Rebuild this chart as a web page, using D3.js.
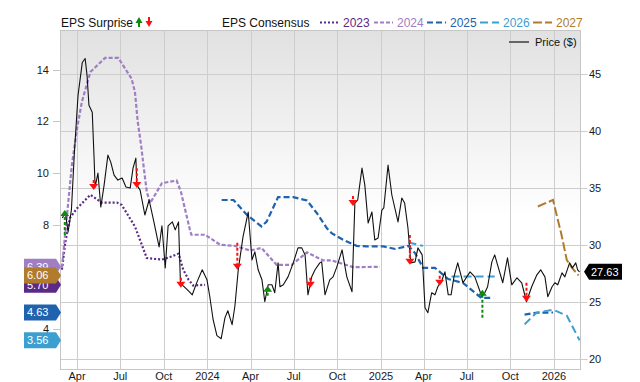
<!DOCTYPE html>
<html>
<head>
<meta charset="utf-8">
<script src="https://cdnjs.cloudflare.com/ajax/libs/d3/7.8.5/d3.min.js"></script>
<style>
  body { margin: 0; background: #fff; }
  svg text { font-family: "Liberation Sans", Arial, sans-serif; }
</style>
</head>
<body>
<div id="chart"></div>
<script>
// ---- data ----
const dateRange = ["2023-02-25", "2026-02-26"]
const priceTicks = [20, 25, 30, 35, 40, 45]
const epsTicks = [4, 6, 8, 10, 12, 14]
const years = ["2023", "2024", "2025", "2026", "2027"]

const price = [
  ["2023-03-01",32.37],["2023-03-07",32.89],["2023-03-13",31.14],["2023-03-20",33.07],["2023-03-26",37.90],
  ["2023-04-03",43.16],["2023-04-12",46.05],["2023-04-18",46.40],["2023-04-22",44.91],["2023-04-26",42.28],
  ["2023-05-03",41.67],["2023-05-07",37.46],["2023-05-09",35.09],["2023-05-15",36.32],["2023-05-21",33.33],
  ["2023-05-28",35.26],["2023-06-05",37.90],["2023-06-11",37.28],["2023-06-18",36.14],["2023-06-26",35.70],
  ["2023-07-05",35.88],["2023-07-13",35.09],["2023-07-22",35.00],["2023-07-28",36.75],["2023-08-03",37.63],
  ["2023-08-05",35.26],["2023-08-12",34.82],["2023-08-22",32.63],["2023-08-31",33.95],["2023-09-10",32.02],
  ["2023-09-21",29.82],["2023-09-27",31.67],["2023-10-04",27.98],["2023-10-10",31.67],["2023-10-19",32.02],
  ["2023-10-25",31.32],["2023-11-01",32.02],["2023-11-05",26.67],["2023-11-11",26.40],["2023-11-22",25.96],
  ["2023-11-30",25.61],["2023-12-10",26.75],["2023-12-21",27.81],["2023-12-31",26.93],["2024-01-06",25.44],
  ["2024-01-13",23.42],["2024-01-21",22.02],["2024-01-30",21.75],["2024-02-07",23.60],["2024-02-13",24.21],
  ["2024-02-22",22.98],["2024-02-28",24.65],["2024-03-06",27.81],["2024-03-16",30.70],["2024-03-27",32.89],
  ["2024-04-04",28.68],["2024-04-10",29.39],["2024-04-17",27.81],["2024-04-25",26.93],["2024-05-01",25.00],
  ["2024-05-08",26.49],["2024-05-16",26.49],["2024-05-22",25.79],["2024-05-29",28.42],["2024-06-02",26.32],
  ["2024-06-09",26.49],["2024-06-19",27.19],["2024-06-30",28.42],["2024-07-10",29.74],["2024-07-18",29.74],
  ["2024-07-25",29.12],["2024-07-31",25.61],["2024-08-08",27.19],["2024-08-15",27.81],["2024-08-25",28.42],
  ["2024-08-29",28.51],["2024-09-05",25.61],["2024-09-15",26.93],["2024-09-22",27.19],["2024-09-30",28.07],
  ["2024-10-11",29.56],["2024-10-21",27.19],["2024-11-01",25.88],["2024-11-07",33.68],["2024-11-13",33.95],
  ["2024-11-22",36.75],["2024-11-28",35.26],["2024-12-05",31.93],["2024-12-13",32.89],["2024-12-19",30.44],
  ["2024-12-26",30.61],["2025-01-03",33.07],["2025-01-07",33.25],["2025-01-16",37.02],["2025-01-24",34.39],
  ["2025-02-06",32.02],["2025-02-14",34.12],["2025-02-20",33.68],["2025-02-27",31.49],["2025-03-05",28.42],
  ["2025-03-14",28.51],["2025-03-20",29.74],["2025-03-29",29.12],["2025-04-04",24.47],["2025-04-10",24.04],
  ["2025-04-18",25.79],["2025-04-25",25.61],["2025-05-01",26.32],["2025-05-10",26.93],["2025-05-16",27.63],
  ["2025-05-23",25.61],["2025-05-29",25.61],["2025-06-04",27.19],["2025-06-12",28.42],["2025-06-23",26.67],
  ["2025-07-08",27.63],["2025-07-18",27.19],["2025-08-02",25.44],["2025-08-08",25.79],["2025-08-14",26.32],
  ["2025-08-23",28.51],["2025-08-29",29.12],["2025-09-04",28.25],["2025-09-15",26.67],["2025-09-25",28.86],
  ["2025-10-04",26.49],["2025-10-15",27.11],["2025-10-25",26.67],["2025-11-04",25.00],["2025-11-15",26.32],
  ["2025-11-26",27.37],["2025-12-04",27.81],["2025-12-13",27.19],["2025-12-19",25.44],["2025-12-28",26.32],
  ["2026-01-03",26.67],["2026-01-09",26.49],["2026-01-18",27.54],["2026-01-24",27.19],["2026-02-03",28.42],
  ["2026-02-09",27.98],["2026-02-16",28.42],["2026-02-20",27.81],["2026-02-24",27.63]
]

const eps2023 = [
  ["2023-02-28",6.28],["2023-03-07",7.32],["2023-03-17",8.28],["2023-04-01",8.65],["2023-04-29",9.17],
  ["2023-05-23",8.87],["2023-06-24",8.87],["2023-07-04",8.78],["2023-08-01",7.95],["2023-08-26",6.73],
  ["2023-09-27",6.67],["2023-10-14",6.77],["2023-11-01",6.90],["2023-11-11",6.28],["2023-11-22",5.90],
  ["2023-12-02",5.67],["2023-12-27",5.70]
]
const eps2024 = [
  ["2023-02-28",6.36],["2023-03-21",10.32],["2023-04-01",11.73],["2023-04-11",12.75],["2023-04-29",13.91],
  ["2023-05-30",14.45],["2023-06-27",14.45],["2023-07-25",13.65],["2023-08-01",13.14],["2023-08-07",11.98],
  ["2023-08-14",11.09],["2023-08-19",10.32],["2023-08-26",9.29],["2023-09-02",8.85],["2023-09-27",9.62],
  ["2023-10-28",9.72],["2023-11-06",9.29],["2023-11-25",7.82],["2023-11-28",7.63],["2023-12-27",7.63],
  ["2024-01-28",7.24],["2024-02-28",7.20],["2024-03-31",7.02],["2024-04-24",7.12],["2024-05-26",6.47],
  ["2024-06-27",6.47],["2024-07-29",6.95],["2024-09-01",6.64],["2024-09-19",6.64],["2024-11-03",6.38],
  ["2024-12-30",6.39]
]
const eps2025 = [
  ["2024-01-31",8.97],["2024-02-25",8.97],["2024-03-24",8.40],["2024-04-24",7.95],["2024-05-05",8.14],
  ["2024-05-29",9.08],["2024-06-30",9.08],["2024-07-29",8.95],["2024-08-19",8.46],["2024-09-09",7.88],
  ["2024-09-19",7.69],["2024-10-14",7.43],["2024-11-11",7.20],["2024-12-02",7.18],["2025-01-06",7.18],
  ["2025-01-31",7.08],["2025-02-28",7.20],["2025-03-14",6.92],["2025-03-31",6.35],["2025-04-25",6.35],
  ["2025-05-23",5.92],["2025-06-23",5.77],["2025-08-01",5.19],["2025-08-26",5.19],["2025-09-30",null],
  ["2025-10-31",4.55],["2025-11-25",4.62],["2025-12-30",4.63]
]
const eps2026 = [
  ["2025-02-28",7.33],["2025-03-31",7.20],["2025-04-30",null],["2025-05-30",6.02],["2025-08-29",6.02],
  ["2025-09-30",null],["2025-10-31",4.17],["2025-11-25",4.62],["2025-12-30",4.74],["2026-01-28",4.51],
  ["2026-02-24",3.56]
]
const eps2027 = [
  ["2025-11-28",8.72],["2025-12-30",8.97],["2026-01-17",7.62],["2026-01-28",6.66],["2026-02-08",6.35],
  ["2026-02-22",6.06]
]

// EPS surprise markers, in price units: tail -> head
const surpriseDates = ["2023-03-06","2023-05-06","2023-08-05","2023-11-06","2024-03-04","2024-05-07",
  "2024-08-05","2024-11-03","2025-03-03","2025-05-05","2025-08-03","2025-11-04"]
const surpriseFrom = [30.88, 35.44, 36.75, 26.93, 30.18, 25.79, 26.84, 34.12, 30.88, 27.11, 23.60, 26.67]
const surpriseTo   = [33.07, 34.82, 35.00, 26.23, 27.81, 26.40, 26.23, 33.42, 28.25, 26.40, 26.05, 25.00]

// ---- styles ----
const yearColors = ["#5a2a86", "#a07ec4", "#1f62ad", "#3c9fd2", "#b07b2c"]
const yearDash = ["2,2", "4,2", "6,3", "8,4", "9,3"]
const yearWidth = [2.2, 2.2, 2.2, 2, 2]
const UP = "#0f8a0f", DOWN = "#ff1010"

document.addEventListener("DOMContentLoaded", () => {
    const width = 640, height = 382
    const plot = {left: 60.5, right: 580.5, top: 30.5, bottom: 369.5}
    const parse = d3.timeParse("%Y-%m-%d")

    const series = [eps2023, eps2024, eps2025, eps2026, eps2027]
        .map(s => s.map(d => [parse(d[0]), d[1]]))
    const priceData = price.map(d => [parse(d[0]), d[1]])

    const x = d3.scaleTime()
        .domain(dateRange.map(parse))
        .range([plot.left, plot.right])
    const yPrice = d3.scaleLinear().domain([19.04, 48.86]).range([plot.bottom, plot.top])
    const yEps = d3.scaleLinear().domain([2.43, 15.51]).range([plot.bottom, plot.top])

    const svg = d3.select("#chart").append("svg")
        .attr("width", width)
        .attr("height", height)

    const defs = svg.append("defs")
    const grad = defs.append("linearGradient")
        .attr("id", "bg").attr("x1", 0).attr("y1", 0).attr("x2", 0).attr("y2", 1)
    grad.append("stop").attr("offset", 0).attr("stop-color", "#e1e1e1")
    grad.append("stop").attr("offset", 0.55).attr("stop-color", "#ffffff")
    defs.append("clipPath").attr("id", "clip")
        .append("rect")
        .attr("x", plot.left).attr("y", plot.top)
        .attr("width", plot.right - plot.left).attr("height", plot.bottom - plot.top)

    svg.append("rect")
        .attr("x", plot.left).attr("y", plot.top)
        .attr("width", plot.right - plot.left).attr("height", plot.bottom - plot.top)
        .attr("fill", "url(#bg)")

    // grid
    const quarters = x.ticks(d3.timeMonth.every(3))
    svg.append("g").selectAll("line")
        .data(quarters)
        .enter().append("line")
        .attr("x1", d => Math.round(x(d)) + 0.5).attr("x2", d => Math.round(x(d)) + 0.5)
        .attr("y1", plot.top).attr("y2", plot.bottom)
        .attr("stroke", "#cdcdcd")
    svg.append("g").selectAll("line")
        .data(priceTicks)
        .enter().append("line")
        .attr("x1", plot.left).attr("x2", plot.right + 7)
        .attr("y1", d => Math.round(yPrice(d)) + 0.5).attr("y2", d => Math.round(yPrice(d)) + 0.5)
        .attr("stroke", "#cdcdcd")

    svg.append("rect")
        .attr("x", plot.left).attr("y", plot.top)
        .attr("width", plot.right - plot.left).attr("height", plot.bottom - plot.top)
        .attr("fill", "none").attr("stroke", "#c6c6c6")

    // x labels
    const fmt = d => d.getMonth() === 0 ? d3.timeFormat("%Y")(d) : d3.timeFormat("%b")(d)
    svg.append("g").selectAll("text")
        .data(quarters)
        .enter().append("text")
        .attr("x", d => x(d)).attr("y", 380)
        .attr("text-anchor", "middle")
        .attr("font-size", 11).attr("fill", "#1a1a1a")
        .text(fmt)

    // right price axis labels
    svg.append("g").selectAll("text")
        .data(priceTicks)
        .enter().append("text")
        .attr("x", 589).attr("y", d => yPrice(d) + 4)
        .attr("font-size", 11).attr("fill", "#1a1a1a")
        .text(d => d)

    // left EPS axis
    svg.append("g").selectAll("line")
        .data(epsTicks)
        .enter().append("line")
        .attr("x1", 53).attr("x2", plot.left)
        .attr("y1", d => Math.round(yEps(d)) + 0.5).attr("y2", d => Math.round(yEps(d)) + 0.5)
        .attr("stroke", "#c6c6c6")
    svg.append("g").selectAll("text")
        .data(epsTicks)
        .enter().append("text")
        .attr("x", 49).attr("y", d => yEps(d) + 4)
        .attr("text-anchor", "end")
        .attr("font-size", 11).attr("fill", "#1a1a1a")
        .text(d => d)

    const g = svg.append("g").attr("clip-path", "url(#clip)")

    // consensus lines
    const epsLine = d3.line()
        .defined(d => d[1] != null)
        .x(d => x(d[0])).y(d => yEps(d[1]))
    series.forEach((s, i) => {
        g.append("path")
            .datum(s)
            .attr("d", epsLine)
            .attr("fill", "none")
            .attr("stroke", yearColors[i])
            .attr("stroke-width", yearWidth[i])
            .attr("stroke-dasharray", yearDash[i])
    })

    // price
    const priceLine = d3.line().x(d => x(d[0])).y(d => yPrice(d[1]))
    g.append("path")
        .datum(priceData)
        .attr("d", priceLine)
        .attr("fill", "none")
        .attr("stroke", "#111")
        .attr("stroke-width", 1.1)
        .attr("stroke-linejoin", "round")

    // surprise arrows
    const arrow = (parent, cx, yTail, yHead, color, dashed, half) => {
        const dir = yHead < yTail ? -1 : 1
        const headLen = 6
        const hw = half || 4.5
        let tail = yTail
        if (Math.abs(yHead - yTail) < headLen + 4) tail = yHead - dir * (headLen + 4)
        parent.append("line")
            .attr("x1", cx).attr("x2", cx)
            .attr("y1", tail).attr("y2", yHead - dir * headLen)
            .attr("stroke", color).attr("stroke-width", 2)
            .attr("stroke-dasharray", dashed ? "3,2" : null)
        parent.append("path")
            .attr("d", `M${cx - hw},${yHead - dir * headLen} L${cx + hw},${yHead - dir * headLen} L${cx},${yHead} Z`)
            .attr("fill", color)
    }
    surpriseDates.forEach((d, i) => {
        const up = surpriseTo[i] > surpriseFrom[i]
        arrow(g, x(parse(d)), yPrice(surpriseFrom[i]), yPrice(surpriseTo[i]), up ? UP : DOWN, true)
    })

    // left value badges
    series.forEach((s, i) => {
        const last = s.filter(d => d[1] != null).slice(-1)[0][1]
        const cy = yEps(last)
        svg.append("path")
            .attr("d", `M24,${cy - 8} H56 L61,${cy} L56,${cy + 8} H24 Z`)
            .attr("fill", yearColors[i])
        svg.append("text")
            .attr("x", 27).attr("y", cy + 4)
            .attr("font-size", 11).attr("fill", "#fff")
            .text(last.toFixed(2))
    })

    // right price badge
    const lastPrice = priceData[priceData.length - 1][1]
    const py = yPrice(lastPrice)
    svg.append("path")
        .attr("d", `M584,${py} L589,${py - 8} H622 V${py + 8} H589 Z`)
        .attr("fill", "#000")
    svg.append("text")
        .attr("x", 591).attr("y", py + 4)
        .attr("font-size", 11).attr("fill", "#fff")
        .text(lastPrice.toFixed(2))

    // legend
    const legend = svg.append("g").attr("font-size", 12).attr("fill", "#111")
    legend.append("text").attr("x", 61).attr("y", 27).text("EPS Surprise")
    arrow(legend, 139, 27, 17, UP, false, 3.5)
    arrow(legend, 149, 17, 27, DOWN, false, 3.5)
    legend.append("text").attr("x", 222).attr("y", 27).text("EPS Consensus")
    const sampleX = [320, 374, 427, 480, 533]
    years.forEach((yr, i) => {
        legend.append("line")
            .attr("x1", sampleX[i]).attr("x2", sampleX[i] + 19)
            .attr("y1", 22.5).attr("y2", 22.5)
            .attr("stroke", yearColors[i])
            .attr("stroke-width", yearWidth[i])
            .attr("stroke-dasharray", yearDash[i])
        legend.append("text")
            .attr("x", sampleX[i] + 23).attr("y", 27)
            .attr("fill", yearColors[i])
            .text(yr)
    })
    svg.append("line")
        .attr("x1", 509).attr("x2", 529).attr("y1", 42).attr("y2", 42)
        .attr("stroke", "#666").attr("stroke-width", 2)
    svg.append("text")
        .attr("x", 535).attr("y", 46)
        .attr("font-size", 11).attr("fill", "#111")
        .text("Price ($)")
})
</script>
</body>
</html>
